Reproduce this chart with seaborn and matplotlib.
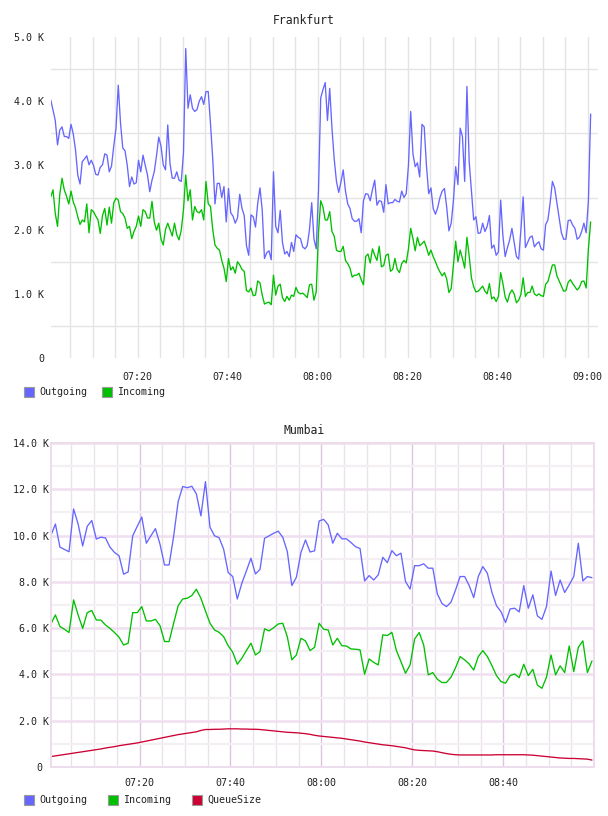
import numpy as np
import pandas as pd
import seaborn as sns
import matplotlib.pyplot as plt
import matplotlib.dates as mdates
import matplotlib.ticker as mticker
from matplotlib.patches import Rectangle

# ---- Frankfurt: samples every 30 s, values in thousands ----
fra_start = "2024-01-01 07:00:40"
fra_outgoing = [
    4.02, 3.86, 3.70, 3.32, 3.55, 3.60, 3.45, 3.45, 3.42, 3.64,
    3.49, 3.24, 2.85, 2.71, 3.06, 3.10, 3.15, 3.01, 3.08, 3.00,
    2.86, 2.85, 2.97, 3.01, 3.18, 3.16, 2.90, 2.99, 3.30, 3.58,
    4.25, 3.66, 3.27, 3.23, 3.00, 2.67, 2.82, 2.71, 2.73, 3.08,
    2.90, 3.16, 3.00, 2.85, 2.59, 2.77, 2.90, 3.15, 3.44, 3.30,
    3.01, 2.93, 3.63, 3.03, 2.80, 2.80, 2.90, 2.77, 2.75, 3.20,
    4.82,
    3.89, 4.10, 3.89, 3.84, 3.87, 4.00, 4.07, 3.95, 4.15, 4.15,
    3.65, 3.10, 2.40, 2.72, 2.72, 2.50, 2.67, 2.12, 2.64, 2.26,
    2.21, 2.10, 2.18, 2.55, 2.33, 2.22, 1.75, 1.60, 2.23, 2.20,
    2.04, 2.41, 2.65, 2.30, 1.55, 1.64, 1.67, 1.53, 2.90, 2.05,
    1.95, 2.30, 1.80, 1.62, 1.66, 1.58, 1.80, 1.66, 1.92, 1.88,
    1.86, 1.73, 1.70, 1.75, 2.00, 2.42, 1.85, 1.70, 2.60, 4.05,
    4.18, 4.29, 3.70, 4.20, 3.58, 3.10, 2.75, 2.58, 2.74, 2.93,
    2.60, 2.40, 2.33, 2.17, 2.13, 2.13, 2.17, 1.95, 2.45, 2.56,
    2.55, 2.45, 2.62, 2.77, 2.38, 2.45, 2.44, 2.27, 2.70, 2.40,
    2.42, 2.42, 2.47, 2.44, 2.43, 2.60, 2.50, 2.56, 3.00, 3.84,
    3.18, 2.98, 3.04, 2.82, 3.64, 3.60, 3.00, 2.56, 2.65, 2.33,
    2.24, 2.34, 2.50, 2.60, 2.64, 2.35, 1.98, 2.10, 2.45, 2.98,
    2.70, 3.58, 3.45, 2.75, 4.23, 3.06, 2.60, 2.15, 2.20, 1.94,
    1.95, 2.10, 1.97, 2.05, 2.22, 1.71, 1.76, 1.60, 1.65, 2.46,
    1.90, 1.58, 1.72, 1.84, 2.02, 1.80, 1.58, 1.54, 2.00, 2.51,
    1.72, 1.80, 1.88, 1.90, 1.73, 1.78, 1.81, 1.70, 1.68, 2.08,
    2.15, 2.42, 2.75, 2.65, 2.41, 2.18, 1.95, 1.85, 1.85, 2.14,
    2.15, 2.07, 2.02, 1.85, 1.88, 1.97, 2.10, 1.95, 2.45, 3.80,
]
fra_incoming = [
    2.51, 2.62, 2.25, 2.05, 2.55, 2.80, 2.62, 2.52, 2.40, 2.60,
    2.43, 2.34, 2.20, 2.08, 2.15, 2.12, 2.40, 1.95, 2.31, 2.28,
    2.21, 2.15, 1.94, 2.22, 2.33, 2.07, 2.35, 2.10, 2.42, 2.49,
    2.46, 2.28, 2.25, 2.18, 2.02, 2.05, 1.86, 1.97, 2.05, 2.21,
    2.05, 2.31, 2.28, 2.18, 2.18, 2.44, 2.12, 1.99, 2.10, 1.85,
    1.76, 2.00, 2.10, 2.00, 1.90, 2.10, 1.92, 1.84, 1.99, 2.31,
    2.85,
    2.45, 2.62, 2.15, 2.36, 2.28, 2.26, 2.31, 2.15, 2.75, 2.40,
    2.36, 2.00, 1.76, 1.71, 1.68, 1.52, 1.40, 1.19, 1.55, 1.37,
    1.42, 1.32, 1.50, 1.45, 1.38, 1.35, 1.05, 1.03, 1.09, 0.97,
    0.98, 1.20, 1.17, 0.98, 0.84, 0.86, 0.87, 0.83, 1.29, 0.98,
    1.12, 1.15, 0.94, 0.88, 0.96, 0.90, 0.98, 0.96, 1.10, 1.02,
    1.00, 1.01, 0.98, 0.94, 1.14, 1.15, 0.90, 1.03, 1.95, 2.45,
    2.35, 2.15, 2.15, 2.28, 1.97, 1.90, 1.68, 1.66, 1.66, 1.74,
    1.52, 1.47, 1.40, 1.26, 1.29, 1.29, 1.32, 1.22, 1.14, 1.58,
    1.62, 1.48, 1.70, 1.60, 1.52, 1.74, 1.42, 1.44, 1.60, 1.62,
    1.35, 1.38, 1.55, 1.38, 1.33, 1.47, 1.52, 1.48, 1.70, 2.02,
    1.86, 1.67, 1.88, 1.75, 1.78, 1.82, 1.72, 1.60, 1.68, 1.58,
    1.50, 1.41, 1.34, 1.28, 1.33, 1.23, 1.02, 1.08, 1.45, 1.82,
    1.50, 1.68, 1.55, 1.40, 1.88, 1.59, 1.25, 1.11, 1.03, 1.04,
    1.08, 1.12, 1.04, 1.00, 1.16, 0.92, 0.95, 0.88, 0.96, 1.33,
    1.16, 0.95, 0.87, 1.00, 1.06, 1.00, 0.86, 0.90, 0.99, 1.25,
    0.96, 1.02, 1.02, 1.12, 1.00, 0.97, 1.00, 0.97, 0.96, 1.15,
    1.19, 1.32, 1.45, 1.45, 1.28, 1.20, 1.12, 1.04, 1.05, 1.18,
    1.22, 1.16, 1.11, 1.06, 1.10, 1.19, 1.20, 1.09, 1.70, 2.12,
]

# ---- Mumbai: one sample per minute, values in thousands ----
mum_start = "2024-01-01 07:00:30"
mum_outgoing = [
    10.0, 10.5, 9.50, 9.40, 9.30, 11.15, 10.5, 9.55, 10.4, 10.65,
    9.85, 9.93, 9.90, 9.50, 9.27, 9.13, 8.33, 8.43, 9.99, 10.4,
    10.8, 9.67, 9.99, 10.3, 9.63, 8.73, 8.73, 9.96, 11.47, 12.12,
    12.07, 12.13, 11.8, 10.85, 12.33, 10.36, 9.99, 9.91, 9.41, 8.40,
    8.23, 7.26, 7.94, 8.47, 9.02, 8.34, 8.54, 9.88, 9.99, 10.1,
    10.19, 9.93, 9.31, 7.84, 8.20, 9.27, 9.81, 9.29, 9.34, 10.63,
    10.7, 10.46, 9.67, 10.1, 9.86, 9.86, 9.70, 9.52, 9.44, 8.04,
    8.27, 8.08, 8.30, 9.06, 8.83, 9.35, 9.13, 9.24, 8.01, 7.69,
    8.70, 8.70, 8.78, 8.59, 8.59, 7.48, 7.07, 6.93, 7.12, 7.65,
    8.23, 8.23, 7.84, 7.32, 8.23, 8.66, 8.37, 7.55, 6.97, 6.71,
    6.24, 6.83, 6.86, 6.70, 7.84, 6.86, 7.44, 6.53, 6.38, 6.93,
    8.47, 7.41, 8.08, 7.54, 7.87, 8.23, 9.67, 8.04, 8.23, 8.18,
]
mum_incoming = [
    6.18, 6.57, 6.07, 5.95, 5.81, 7.22, 6.57, 5.99, 6.67, 6.76,
    6.35, 6.35, 6.14, 5.99, 5.81, 5.61, 5.27, 5.35, 6.67, 6.67,
    6.93, 6.31, 6.31, 6.38, 6.11, 5.42, 5.42, 6.21, 6.97, 7.26,
    7.29, 7.41, 7.68, 7.29, 6.74, 6.21, 5.92, 5.82, 5.63, 5.24,
    4.96, 4.44, 4.70, 5.03, 5.35, 4.84, 4.99, 5.97, 5.88, 6.02,
    6.18, 6.21, 5.63, 4.63, 4.84, 5.56, 5.45, 5.03, 5.17, 6.21,
    5.95, 5.92, 5.27, 5.56, 5.24, 5.23, 5.10, 5.09, 5.06, 4.01,
    4.67, 4.52, 4.41, 5.71, 5.68, 5.82, 5.03, 4.55, 4.05, 4.41,
    5.53, 5.81, 5.27, 3.98, 4.08, 3.79, 3.65, 3.65, 3.88, 4.29,
    4.77, 4.63, 4.45, 4.19, 4.77, 5.03, 4.77, 4.38, 3.95, 3.69,
    3.62, 3.95, 4.02, 3.86, 4.44, 3.95, 4.22, 3.54, 3.40, 3.88,
    4.84, 3.98, 4.37, 4.08, 5.23, 4.12, 5.17, 5.45, 4.08, 4.58,
]
mum_queue = [
    0.45, 0.48, 0.51, 0.54, 0.57, 0.60, 0.63, 0.66, 0.69, 0.72,
    0.75, 0.78, 0.82, 0.85, 0.88, 0.92, 0.95, 0.98, 1.01, 1.04,
    1.08, 1.12, 1.16, 1.20, 1.24, 1.28, 1.32, 1.36, 1.40, 1.43,
    1.46, 1.49, 1.52, 1.58, 1.62, 1.62, 1.63, 1.63, 1.64, 1.65,
    1.65, 1.65, 1.64, 1.64, 1.63, 1.63, 1.62, 1.60, 1.58, 1.56,
    1.54, 1.52, 1.50, 1.49, 1.48, 1.46, 1.44, 1.41, 1.37, 1.34,
    1.32, 1.30, 1.28, 1.26, 1.24, 1.21, 1.18, 1.15, 1.12, 1.08,
    1.05, 1.02, 0.99, 0.96, 0.94, 0.92, 0.89, 0.86, 0.83, 0.78,
    0.74, 0.72, 0.71, 0.70, 0.69, 0.66, 0.62, 0.58, 0.55, 0.53,
    0.52, 0.52, 0.52, 0.52, 0.52, 0.52, 0.52, 0.52, 0.53, 0.53,
    0.53, 0.53, 0.53, 0.53, 0.53, 0.52, 0.51, 0.49, 0.47, 0.45,
    0.43, 0.41, 0.39, 0.38, 0.37, 0.37, 0.36, 0.35, 0.34, 0.30,
]

series_colors = {"Outgoing": "#6666ff", "Incoming": "#00c000", "QueueSize": "#cc0033"}

fra_time = pd.date_range(fra_start, periods=len(fra_outgoing), freq="30s")
mum_time = pd.date_range(mum_start, periods=len(mum_outgoing), freq="60s")

fra = pd.concat([
    pd.DataFrame({"time": fra_time, "value": fra_outgoing, "series": "Outgoing"}),
    pd.DataFrame({"time": fra_time, "value": fra_incoming, "series": "Incoming"}),
])
mum = pd.concat([
    pd.DataFrame({"time": mum_time, "value": mum_outgoing, "series": "Outgoing"}),
    pd.DataFrame({"time": mum_time, "value": mum_incoming, "series": "Incoming"}),
    pd.DataFrame({"time": mum_time, "value": mum_queue, "series": "QueueSize"}),
])

sns.set_style("white")
plt.rcParams['font.family'] = ['DejaVu Sans Mono']
plt.rcParams['font.size'] = 7.2

W, H = 608, 816
fig = plt.figure(figsize=(W / 100, H / 100), dpi=100)


def px_axes(left, top, right, bottom):
    return fig.add_axes([left / W, 1 - bottom / H, (right - left) / W, (bottom - top) / H])


def k_fmt(v, pos):
    return "0" if abs(v) < 1e-9 else f"{v:.1f} K"


def k_fmt_pad(v, pos):
    # the zero label sits a little left of the others in the Mumbai panel
    return "0 " if abs(v) < 1e-9 else f"{v:.1f} K"


def legend_row(y, items):
    for x, label in items:
        fig.add_artist(Rectangle((x / W, 1 - (y + 5) / H), 10 / W, 10 / H,
                                 transform=fig.transFigure, fc=series_colors[label],
                                 ec="#9a9a9a", lw=0.8))
        fig.text((x + 15) / W, 1 - y / H, label, va="center", ha="left",
                 fontsize=7.2, color="#222222")


# ---------------- Frankfurt ----------------
ax1 = px_axes(51, 37, 598, 358)
sns.lineplot(data=fra, x="time", y="value", hue="series", palette=series_colors,
             linewidth=0.95, legend=False, ax=ax1)
ax1.set_xlim(pd.Timestamp("2024-01-01 07:00:43"), pd.Timestamp("2024-01-01 09:02:18"))
ax1.set_ylim(0, 5)
ax1.xaxis.set_major_locator(mdates.MinuteLocator(byminute=[0, 20, 40]))
ax1.xaxis.set_minor_locator(mdates.MinuteLocator(byminute=range(0, 60, 5)))
ax1.xaxis.set_major_formatter(mdates.DateFormatter("%H:%M"))
ax1.yaxis.set_major_locator(mticker.MultipleLocator(1))
ax1.yaxis.set_minor_locator(mticker.FixedLocator([0.5, 1.5, 2.5, 3.5, 4.5]))
ax1.yaxis.set_major_formatter(mticker.FuncFormatter(k_fmt))
ax1.grid(False)
ax1.grid(True, which="minor", color="#e4e4e4", lw=1.0)
ax1.grid(True, which="major", axis="x", color="#e4e4e4", lw=1.0)
ax1.set_axisbelow(True)
for s in ax1.spines.values():
    s.set_visible(False)
ax1.tick_params(which="both", length=0)
ax1.tick_params(axis="y", pad=5, labelsize=7.2, labelcolor="#222222")
ax1.tick_params(axis="x", pad=10, labelsize=7.2, labelcolor="#222222")
ax1.set_xlabel("")
ax1.set_ylabel("")
fig.text(304 / W, 1 - 20 / H, "Frankfurt", ha="center", va="center", fontsize=8.3,
         color="#222222")
legend_row(392, [(24, "Outgoing"), (102, "Incoming")])

# ---------------- Mumbai ----------------
ax2 = px_axes(50.7, 443, 594, 767)
sns.lineplot(data=mum, x="time", y="value", hue="series", palette=series_colors,
             linewidth=0.95, legend=False, ax=ax2)
ax2.set_xlim(pd.Timestamp("2024-01-01 07:00:28"), pd.Timestamp("2024-01-01 08:59:57"))
ax2.set_ylim(0, 14)
ax2.xaxis.set_major_locator(mdates.MinuteLocator(byminute=[0, 20, 40]))
ax2.xaxis.set_minor_locator(mdates.MinuteLocator(byminute=range(0, 60, 5)))
ax2.xaxis.set_major_formatter(mdates.DateFormatter("%H:%M"))
ax2.yaxis.set_major_locator(mticker.MultipleLocator(2))
ax2.yaxis.set_minor_locator(mticker.MultipleLocator(1))
ax2.yaxis.set_major_formatter(mticker.FuncFormatter(k_fmt_pad))
ax2.grid(False)
ax2.grid(True, which="minor", axis="x", color="#ebe3eb", lw=1.0)
ax2.grid(True, which="minor", axis="y", color="#f3eff3", lw=1.6)
ax2.grid(True, which="major", axis="x", color="#dcc6dc", lw=1.0)
ax2.grid(True, which="major", axis="y", color="#f0dff0", lw=1.8)
ax2.set_axisbelow(True)
for s in ax2.spines.values():
    s.set_color("#ecdcec")
    s.set_linewidth(1.4)
ax2.tick_params(which="both", length=0)
ax2.tick_params(axis="y", pad=1, labelsize=7.2, labelcolor="#222222")
ax2.tick_params(axis="x", pad=8, labelsize=7.2, labelcolor="#222222")
ax2.set_xlabel("")
ax2.set_ylabel("")
fig.text(304 / W, 1 - 430 / H, "Mumbai", ha="center", va="center", fontsize=8.3,
         color="#222222")
legend_row(800, [(24, "Outgoing"), (108, "Incoming"), (192, "QueueSize")])

fig.savefig("out.png", dpi=100)
